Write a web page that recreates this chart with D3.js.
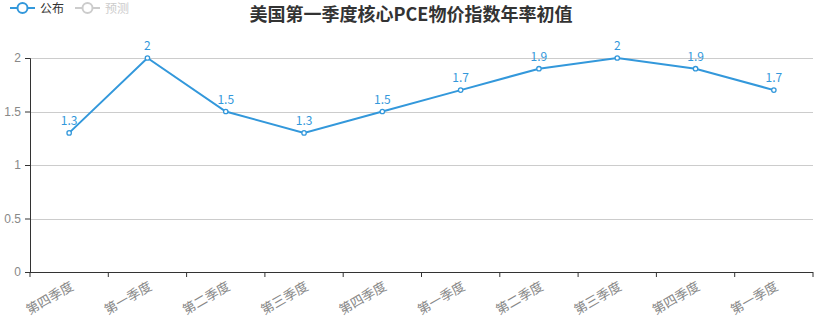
<!DOCTYPE html>
<html><head><meta charset="utf-8">
<script src="https://cdn.jsdelivr.net/npm/d3@7"></script>
<style>body{margin:0;background:#fff;}svg{font-family:"Microsoft YaHei","Noto Sans CJK SC",sans-serif;}</style>
</head><body><svg id="c" width="822" height="328"></svg>
<script>
const categories = ["第四季度","第一季度","第二季度","第三季度","第四季度","第一季度","第二季度","第三季度","第四季度","第一季度"];
const published = [1.3, 2, 1.5, 1.3, 1.5, 1.7, 1.9, 2, 1.9, 1.7];
const yTicks = [0, 0.5, 1, 1.5, 2];
const title = "美国第一季度核心PCE物价指数年率初值";
const legendNames = ["公布", "预测"];

(function () {
const svg = d3.select("#c");
const mLeft = 30, mRight = 813, mTop = 58, mBottom = 272;
const x = d3.scaleBand().domain(d3.range(categories.length)).range([mLeft, mRight]);
const y = d3.scaleLinear().domain([0, 2]).range([mBottom, mTop]);
const blue = "#3398DB";

// grid
svg.append("g").selectAll("line").data(yTicks.filter(d => d > 0)).join("line")
  .attr("x1", mLeft).attr("x2", mRight)
  .attr("y1", d => Math.round(y(d)) + 0.5).attr("y2", d => Math.round(y(d)) + 0.5)
  .attr("stroke", "#ccc").attr("stroke-width", 1);

// y axis
const ya = svg.append("g").attr("transform", `translate(${mLeft},0)`)
  .call(d3.axisLeft(y).tickValues(yTicks).tickSize(5).tickPadding(4).tickFormat(d3.format("")));
ya.select(".domain").attr("stroke", "#333");
ya.selectAll(".tick line").attr("stroke", "#333");
ya.selectAll(".tick text").attr("fill", "#888").attr("font-size", 12);

// x axis
const xa = svg.append("g").attr("transform", `translate(0,${mBottom})`);
xa.append("line").attr("x1", mLeft).attr("x2", mRight).attr("stroke", "#333").attr("shape-rendering", "crispEdges");
const bounds = d3.range(categories.length + 1).map(i => i < categories.length ? x(i) : x(categories.length - 1) + x.bandwidth());
xa.selectAll("line.t").data(bounds).join("line").attr("class", "t")
  .attr("x1", d => d).attr("x2", d => d).attr("y1", 0).attr("y2", 5).attr("stroke", "#333");
xa.selectAll("text").data(categories).join("text")
  .attr("transform", (d, i) => `translate(${x(i) + x.bandwidth() / 2 + 3},${13}) rotate(-30)`)
  .attr("text-anchor", "end").attr("dy", "0.35em")
  .attr("fill", "#888").attr("font-size", 13).text(d => d);

// line
const cx = i => x(i) + x.bandwidth() / 2;
svg.append("path").datum(published)
  .attr("d", d3.line().x((d, i) => cx(i)).y(d => y(d)))
  .attr("fill", "none").attr("stroke", blue).attr("stroke-width", 2);
svg.append("g").selectAll("circle").data(published).join("circle")
  .attr("cx", (d, i) => cx(i)).attr("cy", d => y(d)).attr("r", 2.2)
  .attr("fill", "#fff").attr("stroke", blue).attr("stroke-width", 1.3);
svg.append("g").selectAll("text").data(published).join("text")
  .attr("x", (d, i) => cx(i)).attr("y", d => y(d) - 8)
  .attr("text-anchor", "middle").attr("fill", blue).attr("font-size", 12).text(d => d);

// title
svg.append("text").attr("x", 411).attr("y", 21).attr("text-anchor", "middle")
  .attr("font-size", 18).attr("font-weight", "bold").attr("fill", "#333").text(title);

// legend
const lg = svg.append("g");
const legColors = [blue, "#ccc"], textColors = ["#333", "#ccc"];
legendNames.forEach((n, i) => {
  const ox = 10 + i * 65;
  lg.append("line").attr("x1", ox).attr("x2", ox + 25).attr("y1", 8).attr("y2", 8).attr("stroke", legColors[i]).attr("stroke-width", 2);
  lg.append("circle").attr("cx", ox + 12.5).attr("cy", 8).attr("r", 5).attr("fill", "#fff").attr("stroke", legColors[i]).attr("stroke-width", 2);
  lg.append("text").attr("x", ox + 30).attr("y", 13).attr("font-size", 12).attr("fill", textColors[i]).text(n);
});
})();
</script></body></html>
